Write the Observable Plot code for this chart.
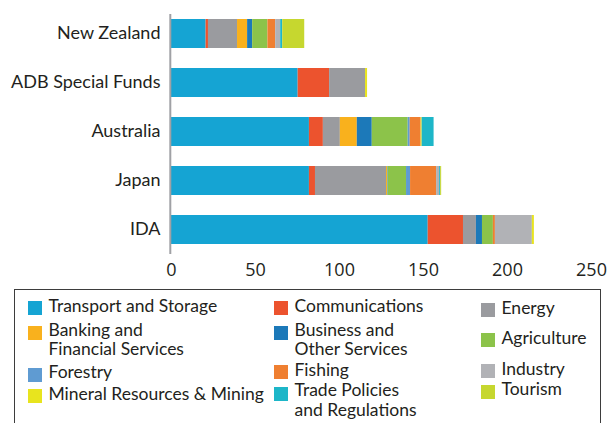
<!DOCTYPE html>
<html>
<head>
<meta charset="utf-8">
<script src="https://cdn.jsdelivr.net/npm/d3@7"></script>
<script src="https://cdn.jsdelivr.net/npm/@observablehq/plot@0.6"></script>
<style>
  html, body { margin: 0; padding: 0; background: #fff; }
  #wrap { position: relative; width: 607px; height: 423px; overflow: hidden; font-family: Lato, sans-serif; color: #231f20; }
  #legend { position: absolute; left: 14px; top: 289px; width: 587px; height: 150px; border: 1.5px solid #3d3d3d; box-sizing: border-box; }
  .line { position: absolute; font-size: 17.5px; line-height: 18px; height: 18px; white-space: nowrap; }
  .sw { position: absolute; width: 14px; height: 14px; }
</style>
</head>
<body>
<div id="wrap"><div id="chart"></div><div id="legend"></div></div>
<script>
const donors = ["New Zealand", "ADB Special Funds", "Australia", "Japan", "IDA"];
const sectors = ["Transport and Storage", "Communications", "Energy", "Banking and Financial Services",
  "Business and Other Services", "Agriculture", "Forestry", "Fishing", "Industry",
  "Mineral Resources & Mining", "Trade Policies and Regulations", "Tourism"];
const legendLabels = ["Transport and Storage", "Communications", "Energy", "Banking and\nFinancial Services",
  "Business and\nOther Services", "Agriculture", "Forestry", "Fishing", "Industry",
  "Mineral Resources & Mining", "Trade Policies\nand Regulations", "Tourism"];
const colors = ["#15a4d3", "#ec532e", "#9a9b9f", "#f9b11d", "#1c79b9", "#8cc34a",
  "#5f9bd2", "#ef7f31", "#b1b2b6", "#e8e41e", "#1db6c8", "#c6d72f"];

// values in sector order above
const newZealand = [20.6, 1.4, 17.3, 6.0, 3.0, 9.1, 0, 4.6, 3.0, 0, 1.2, 13.1];
const adbSpecialFunds = [75.4, 18.7, 21.4, 0, 0, 0, 0, 0, 0, 1.2, 0, 0];
const australia = [82.1, 8.3, 10.1, 10.1, 8.9, 21.4, 1.2, 6.5, 0, 0.6, 7.1, 0];
const japan = [82.1, 3.6, 42.3, 0.7, 0.3, 10.9, 2.4, 15.5, 1.8, 0, 0.6, 0.6];
const ida = [152.8, 21.0, 7.7, 0, 3.6, 6.5, 0, 1.2, 22.0, 1.2, 0, 0];
const xTicks = [0, 50, 100, 150, 200, 250];

const series = [newZealand, adbSpecialFunds, australia, japan, ida];
const rows = [];
donors.forEach((d, i) => sectors.forEach((s, j) => {
  if (series[i][j] > 0) rows.push({donor: d, sector: s, value: series[i][j]});
}));

const chart = Plot.plot({
  width: 607,
  height: 289,
  marginLeft: 171,
  marginRight: 16,
  marginTop: 14,
  marginBottom: 35,
  style: {fontFamily: "Lato, sans-serif", color: "#231f20", background: "#fff"},
  x: {domain: [0, 250]},
  y: {domain: donors, range: [18, 244], paddingInner: 0.41, paddingOuter: 0},
  color: {domain: sectors, range: colors},
  marks: [
    Plot.barX(rows, {y: "donor", x: "value", fill: "sector", order: null}),
    Plot.ruleX([0], {stroke: "#a0a1a5", strokeWidth: 2, dx: -1.2}),
    Plot.axisX({ticks: xTicks, tickSize: 0, tickPadding: 9, fontSize: 18, fontFamily: "'Open Sans', sans-serif", fill: "#231f20", label: null}),
    Plot.axisY({tickSize: 0, tickPadding: 11, fontSize: 18, dy: -1, fill: "#231f20", label: null})
  ]
});
document.getElementById("chart").appendChild(chart);

// legend: 3 columns, row-major order
const legend = document.getElementById("legend");
const colX = [13, 259, 466];
const swTop = [[11, 36, 77.5, 99], [11, 36, 75, 96.5], [13, 43, 74, 94.5]];
sectors.forEach((s, k) => {
  const c = k % 3, r = Math.floor(k / 3);
  const sw = document.createElement("div");
  sw.className = "sw";
  sw.style.left = colX[c] + "px";
  sw.style.top = swTop[c][r] + "px";
  sw.style.background = colors[k];
  legend.appendChild(sw);
  const lines = legendLabels[k].split("\n");
  lines.forEach((txt, li) => {
    const t = document.createElement("div");
    t.className = "line";
    t.style.left = (colX[c] + 20.5) + "px";
    const off = lines.length > 1 ? (li === 0 ? -0.75 : 18.75) : 0;
    t.style.top = (swTop[c][r] - 4.5 + off) + "px";
    t.textContent = txt;
    legend.appendChild(t);
  });
});
</script>
</body>
</html>
